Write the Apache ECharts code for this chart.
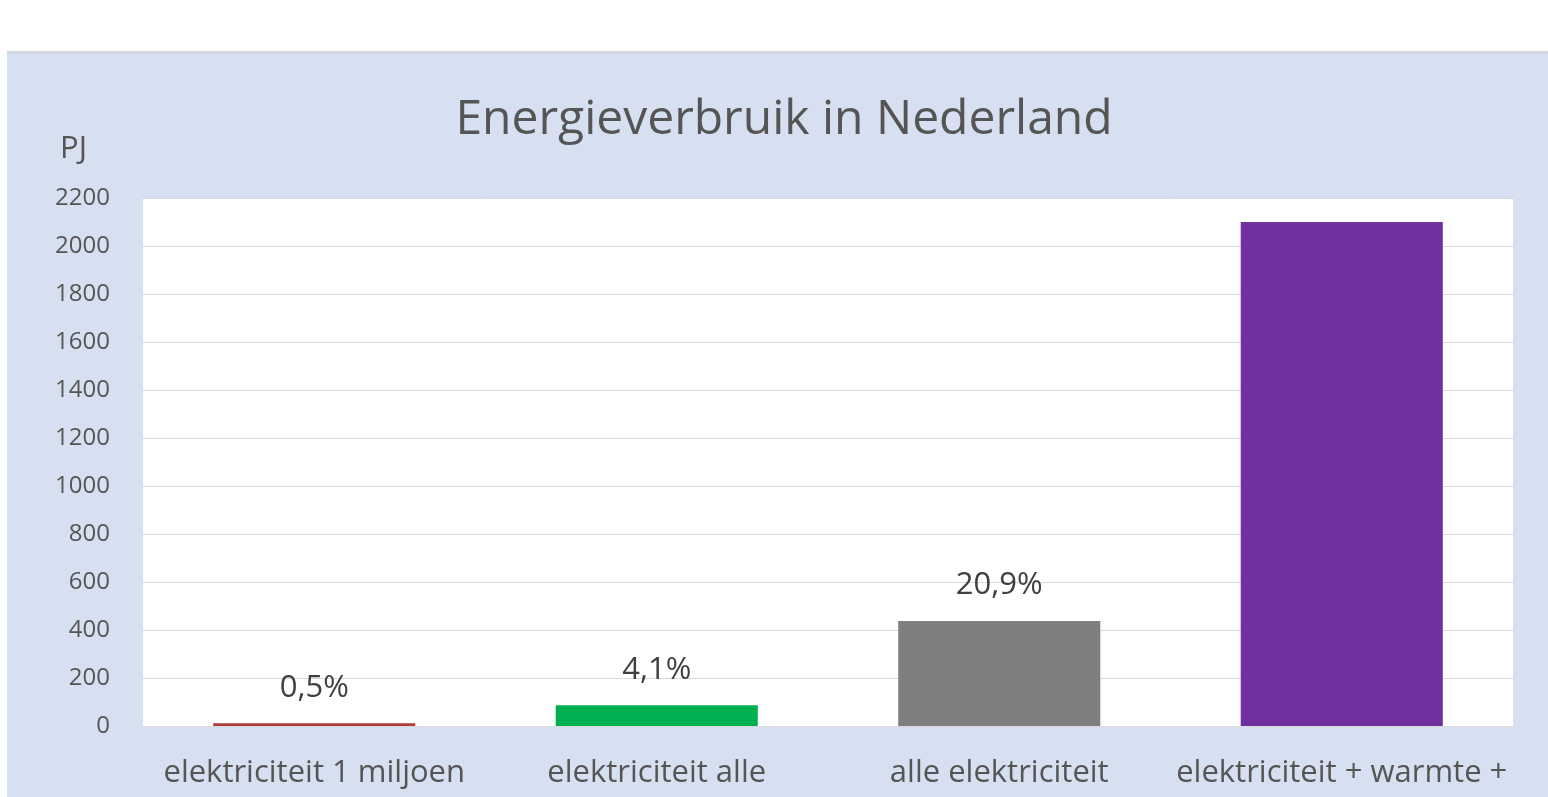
<!DOCTYPE html>
<html>
<head>
<meta charset="utf-8">
<script src="https://cdn.jsdelivr.net/npm/echarts@6/dist/echarts.min.js"></script>
<style>
html,body{margin:0;padding:0;background:#fff;}
#c{width:1548px;height:797px;}
</style>
</head>
<body>
<div id="c"></div>
<script>
var categories = ['elektriciteit 1 miljoen', 'elektriciteit alle', 'alle elektriciteit', 'elektriciteit + warmte +'];
var values = [11, 86, 438, 2100];
var pctLabels = ['0,5%', '4,1%', '20,9%', ''];
var barColors = ['#B03A3A', '#00B050', '#7F7F7F', '#7030A0'];
var yTicks = {min: 0, max: 2200, interval: 200};

var chart = echarts.init(document.getElementById('c'));
var font = '"Open Sans", sans-serif';
chart.setOption({
  backgroundColor: '#ffffff',
  animation: false,
  graphic: [
    {type: 'rect', shape: {x: 7, y: 51, width: 1541, height: 746}, style: {fill: '#D7E0F0'}, z: -10},
    {type: 'rect', shape: {x: 7, y: 51, width: 1541, height: 3}, style: {fill: '#D2D9E4'}, z: -9}
  ],
  title: {
    text: 'Energieverbruik in Nederland',
    left: 779, top: 91, textAlign: 'center',
    textStyle: {fontFamily: font, fontSize: 48, fontWeight: 'normal', color: '#555555'}
  },
  grid: {left: 143, top: 198, right: 35, bottom: 71, show: true, backgroundColor: '#ffffff', borderWidth: 0},
  xAxis: {
    type: 'category',
    data: categories,
    axisLine: {show: true, lineStyle: {color: '#D9D9D9', width: 1}},
    axisTick: {show: false},
    axisLabel: {margin: 32, fontFamily: font, fontSize: 31, color: '#555555', interval: 0}
  },
  yAxis: {
    type: 'value',
    min: yTicks.min, max: yTicks.max, interval: yTicks.interval,
    name: 'PJ',
    nameLocation: 'end',
    nameGap: 49,
    nameTextStyle: {fontFamily: font, fontSize: 31, color: '#555555', align: 'right', verticalAlign: 'middle', padding: [0, 56, 0, 0]},
    axisLine: {show: false},
    axisTick: {show: false},
    splitLine: {lineStyle: {color: '#D9D9D9', width: 1}},
    axisLabel: {margin: 33, fontFamily: font, fontSize: 24, color: '#555555', formatter: function (v) { return String(v); }}
  },
  series: [{
    type: 'bar',
    barCategoryGap: '41%',
    data: values.map(function (v, i) {
      return {value: v, itemStyle: {color: barColors[i]}, label: {formatter: pctLabels[i]}};
    }),
    label: {show: true, position: 'top', distance: 20, fontFamily: font, fontSize: 31, color: '#404040'}
  }]
});
</script>
</body>
</html>
